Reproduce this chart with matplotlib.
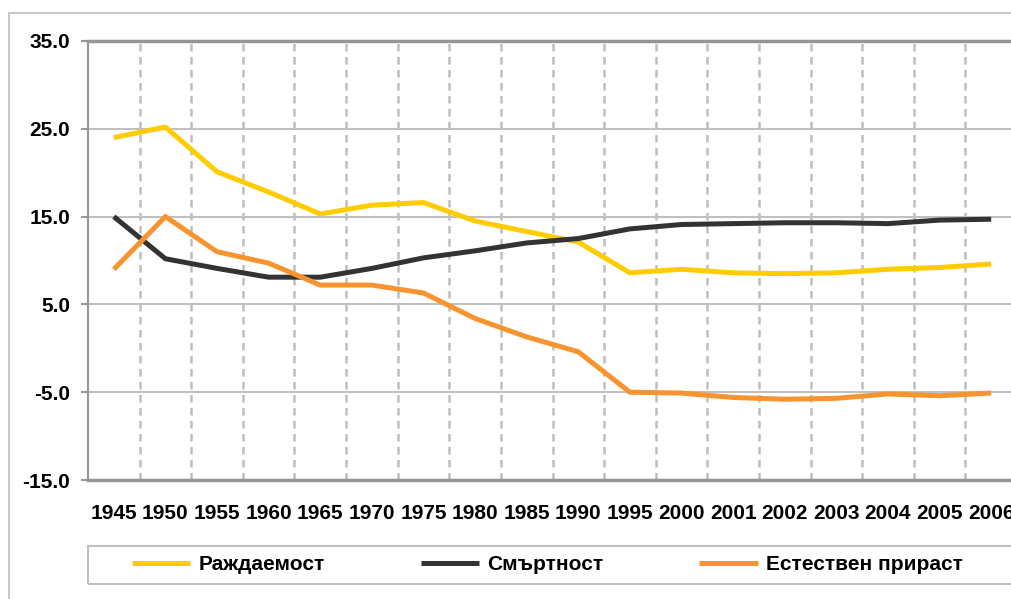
"""
Раждаемост, смъртност и естествен прираст (на 1000 души), 1945-2006.
"""

import matplotlib.pyplot as plt
from matplotlib.patches import Rectangle
from matplotlib.ticker import FixedLocator, FormatStrFormatter

YEARS = [
    "1945", "1950", "1955", "1960", "1965", "1970", "1975", "1980", "1985",
    "1990", "1995", "2000", "2001", "2002", "2003", "2004", "2005", "2006",
]

BIRTH_RATE = [
    24.0, 25.2, 20.1, 17.8, 15.3, 16.3, 16.6, 14.5, 13.3,
    12.1, 8.6, 9.0, 8.6, 8.5, 8.6, 9.0, 9.2, 9.6,
]

DEATH_RATE = [
    15.0, 10.2, 9.1, 8.1, 8.1, 9.1, 10.3, 11.1, 12.0,
    12.5, 13.6, 14.1, 14.2, 14.3, 14.3, 14.2, 14.6, 14.7,
]

NATURAL_GROWTH = [
    9.0, 15.0, 11.0, 9.7, 7.2, 7.2, 6.3, 3.4, 1.3,
    -0.4, -5.0, -5.1, -5.6, -5.8, -5.7, -5.2, -5.4, -5.1,
]

SERIES_LABELS = ["Раждаемост", "Смъртност", "Естествен прираст"]
SERIES_COLORS = ["#FFCC00", "#333333", "#F7942F"]

Y_TICKS = [-15, -5, 5, 15, 25, 35]


def setup_matplotlib() -> None:
    """
    Базови настройки.
    """

    plt.rcParams["font.family"] = ["Liberation Sans", "DejaVu Sans"]
    plt.rcParams["font.weight"] = "bold"
    plt.rcParams["axes.unicode_minus"] = False


def main() -> None:
    setup_matplotlib()

    W, H = 1012, 599
    fig = plt.figure(figsize=(W / 100, H / 100), dpi=100)

    # външна рамка
    fig.patches.append(
        Rectangle(
            (9 / W, -0.1), 1.2, 1.1 - 13 / H,
            transform=fig.transFigure, fill=False,
            edgecolor="#C8C8C8", linewidth=1.5,
        )
    )

    ax = fig.add_axes([88 / W, 119 / H, (1017 - 88) / W, 439 / H])

    x = list(range(len(YEARS)))
    series = [BIRTH_RATE, DEATH_RATE, NATURAL_GROWTH]
    for values, label, color in zip(series, SERIES_LABELS, SERIES_COLORS):
        ax.plot(
            x, values,
            color=color, linewidth=3.6,
            solid_joinstyle="round", solid_capstyle="butt",
            label=label, zorder=3,
        )

    ax.set_xlim(-0.5, len(YEARS) - 0.5)
    ax.set_ylim(-15, 35)

    ax.set_xticks(x)
    ax.set_xticklabels(YEARS)
    ax.xaxis.set_minor_locator(FixedLocator([i + 0.5 for i in x]))
    ax.set_yticks(Y_TICKS)
    ax.yaxis.set_major_formatter(FormatStrFormatter("%.1f"))

    ax.tick_params(axis="x", which="both", length=0, pad=17,
                   labelsize=15, labelcolor="black")
    ax.tick_params(axis="y", length=5, width=1.5, color="#969696", pad=8,
                   labelsize=15, labelcolor="black")

    ax.grid(True, axis="y", color="#C0C0C0", linewidth=1.5, zorder=1)
    ax.grid(True, axis="x", which="minor", color="#BEBEBE", linewidth=1.8,
            linestyle=(0, (3.0, 2.2)), zorder=1)

    ax.spines["right"].set_visible(False)
    ax.spines["left"].set_color("#969696")
    ax.spines["left"].set_linewidth(1.5)
    ax.spines["top"].set_color("#969696")
    ax.spines["top"].set_linewidth(2.5)
    ax.spines["bottom"].set_color("#969696")
    ax.spines["bottom"].set_linewidth(2.5)

    # рамка на легендата
    fig.patches.append(
        Rectangle(
            (88 / W, (H - 584) / H), 1.0, 38 / H,
            transform=fig.transFigure, fill=False,
            edgecolor="#C0C0C0", linewidth=1.5,
        )
    )

    fig.legend(
        loc="center left",
        bbox_to_anchor=(132 / W, (H - 565) / H),
        ncol=3,
        frameon=False,
        fontsize=15,
        handlelength=2.8,
        handletextpad=0.4,
        columnspacing=4.6,
        borderpad=0,
        borderaxespad=0,
    )

    fig.savefig("out.png", dpi=100)
    plt.close(fig)


if __name__ == "__main__":
    main()
